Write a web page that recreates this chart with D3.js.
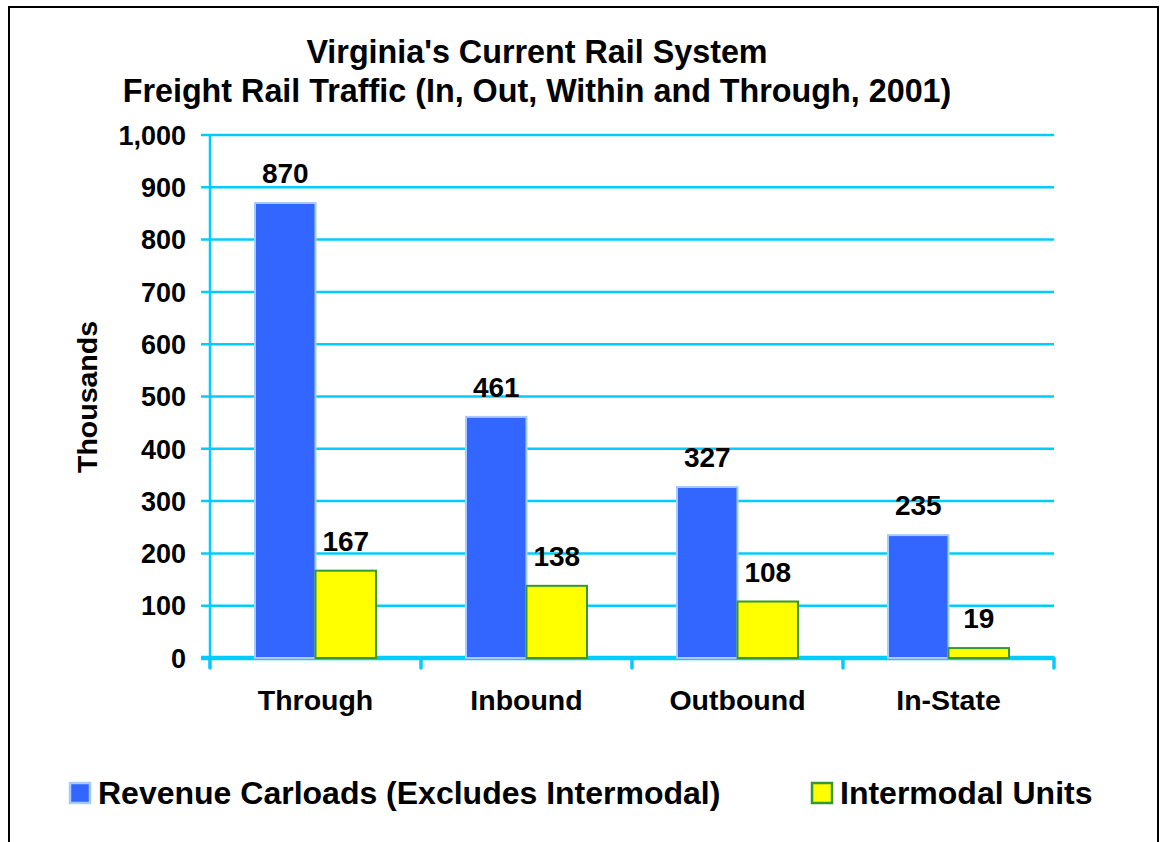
<!DOCTYPE html>
<html lang="en">

<head>
    <meta charset="UTF-8">
    <title>Virginia Freight Rail Traffic</title>
    <style>
        body {
            margin: 0;
            background: #fff;
        }

        svg text {
            font-family: "Liberation Sans", Arial, sans-serif;
            font-weight: bold;
            fill: #000;
        }
    </style>
</head>

<body>
    <svg id="chart"></svg>
    <script src="https://cdnjs.cloudflare.com/ajax/libs/d3/7.9.0/d3.min.js"></script>
    <script>
        // Chart data
        const categories = ["Through", "Inbound", "Outbound", "In-State"];
        const revenueCarloads = [870, 461, 327, 235];
        const intermodalUnits = [167, 138, 108, 19];
        const seriesNames = ["Revenue Carloads (Excludes Intermodal)", "Intermodal Units"];
        const titleLines = ["Virginia's Current Rail System", "Freight Rail Traffic (In, Out, Within and Through, 2001)"];

        const w = 1162;
        const h = 842;
        const grid = "#00CCFF";
        const fills = ["#3366FF", "#FFFF00"];
        const strokes = ["#A6CCFF", "#339933"];

        const svg = d3.select("#chart")
            .attr("width", w)
            .attr("height", h);

        // outer frame (bottom runs off the picture)
        svg.append("rect")
            .attr("x", 9).attr("y", 7)
            .attr("width", 1149).attr("height", 860)
            .attr("fill", "none")
            .attr("stroke", "#000")
            .attr("stroke-width", 2);

        // Scales
        const x = d3.scaleBand()
            .domain(categories)
            .range([210, 1054])
            .paddingInner(0.4265)
            .paddingOuter(0.2133);

        const xSub = d3.scaleBand()
            .domain([0, 1])
            .range([0, x.bandwidth()]);

        const y = d3.scaleLinear()
            .domain([0, 1000])
            .range([658, 135]);

        // Gridlines + y tick labels
        const ticks = y.ticks(10);
        svg.selectAll(".grid")
            .data(ticks.filter(d => d > 0))
            .enter()
            .append("line")
            .attr("x1", 201).attr("x2", 1054)
            .attr("y1", d => y(d)).attr("y2", d => y(d))
            .attr("stroke", grid)
            .attr("stroke-width", 2.5);

        svg.selectAll(".ytick")
            .data(ticks)
            .enter()
            .append("text")
            .attr("x", 186)
            .attr("y", d => y(d))
            .attr("dy", "0.36em")
            .attr("text-anchor", "end")
            .style("font-size", "27px")
            .text(d3.format(","));

        // y axis line
        svg.append("line")
            .attr("x1", 210).attr("x2", 210)
            .attr("y1", y(1000)).attr("y2", 668)
            .attr("stroke", grid)
            .attr("stroke-width", 2.5);

        // x axis line + tick marks at category boundaries
        svg.append("line")
            .attr("x1", 201).attr("x2", 1054)
            .attr("y1", y(0)).attr("y2", y(0))
            .attr("stroke", grid)
            .attr("stroke-width", 4.5);

        const bounds = categories.map(c => x(c) - x.step() * x.paddingOuter()).concat([x.range()[1]]);
        svg.selectAll(".xtick")
            .data(bounds)
            .enter()
            .append("line")
            .attr("x1", d => d).attr("x2", d => d)
            .attr("y1", y(0)).attr("y2", 668)
            .attr("stroke", grid)
            .attr("stroke-width", 3.5)
            .attr("stroke-linecap", "round");

        // Bars
        const seriesValues = [revenueCarloads, intermodalUnits];
        seriesValues.forEach((vals, s) => {
            svg.selectAll(".bar" + s)
                .data(categories)
                .enter()
                .append("rect")
                .attr("x", c => x(c) + xSub(s))
                .attr("y", (c, i) => y(vals[i]))
                .attr("width", xSub.bandwidth())
                .attr("height", (c, i) => y(0) - y(vals[i]))
                .attr("fill", fills[s])
                .attr("stroke", strokes[s])
                .attr("stroke-width", 2);

            svg.selectAll(".lab" + s)
                .data(categories)
                .enter()
                .append("text")
                .attr("x", c => x(c) + xSub(s) + xSub.bandwidth() / 2)
                .attr("y", (c, i) => y(vals[i]) - 20)
                .attr("text-anchor", "middle")
                .style("font-size", "28px")
                .text((c, i) => vals[i]);
        });

        // Category labels
        svg.selectAll(".cat")
            .data(categories)
            .enter()
            .append("text")
            .attr("x", c => x(c) + x.bandwidth() / 2)
            .attr("y", 710)
            .attr("text-anchor", "middle")
            .style("font-size", "28.5px")
            .text(c => c);

        // Axis title
        svg.append("text")
            .attr("transform", "translate(97,397) rotate(-90)")
            .attr("text-anchor", "middle")
            .style("font-size", "28.5px")
            .text("Thousands");

        // Chart title
        svg.selectAll(".title")
            .data(titleLines)
            .enter()
            .append("text")
            .attr("x", 537)
            .attr("y", (d, i) => 63 + i * 39)
            .attr("text-anchor", "middle")
            .style("font-size", "32.3px")
            .text(d => d);

        // Legend
        const legendX = [70, 812];
        seriesNames.forEach((name, s) => {
            svg.append("rect")
                .attr("x", legendX[s]).attr("y", 783)
                .attr("width", 20).attr("height", 20)
                .attr("fill", fills[s])
                .attr("stroke", strokes[s])
                .attr("stroke-width", 2.5);
            svg.append("text")
                .attr("x", legendX[s] + 28)
                .attr("y", 804)
                .style("font-size", "32px")
                .text(name);
        });
    </script>
</body>

</html>
